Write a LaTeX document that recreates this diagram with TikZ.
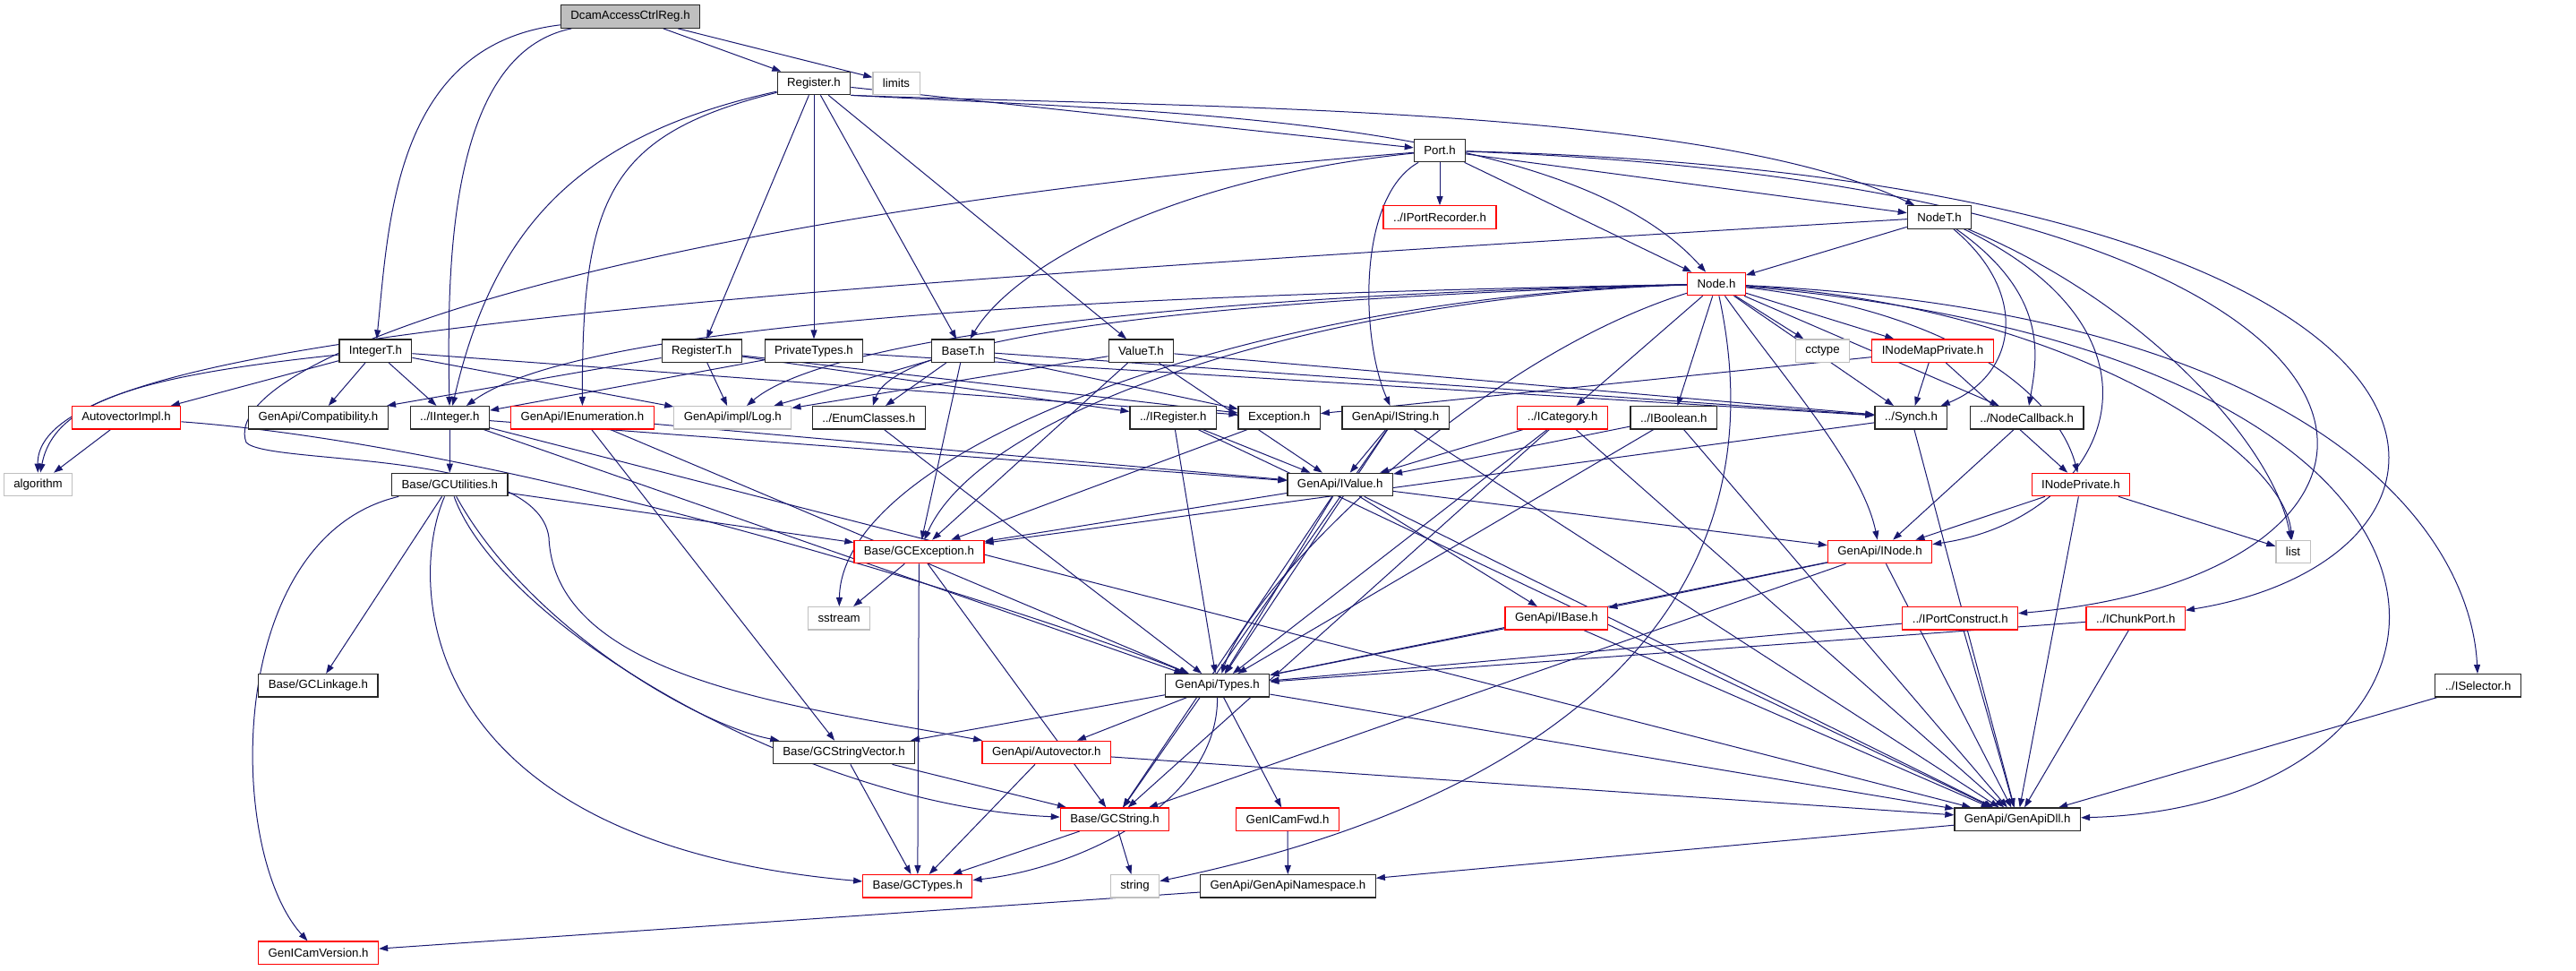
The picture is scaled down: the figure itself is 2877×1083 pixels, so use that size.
\documentclass[tikz,border=0pt]{standalone}
\usepackage{fontspec}
\setmainfont{Liberation Sans}
\usepackage{xcolor}
\definecolor{edgeblue}{RGB}{25, 25, 112}
\definecolor{sysgray}{RGB}{191, 191, 191}
\definecolor{hdrred}{RGB}{255, 0, 0}
\usetikzlibrary{arrows.meta, positioning, backgrounds}

\tikzset{
    hfile/.style={draw=black!85, fill=white, line width=1.2bp, inner xsep=11bp, inner ysep=0pt,
                  minimum height=25.5bp, font=\fontsize{13.3}{16}\selectfont},
    hred/.style={hfile, draw=hdrred},
    hsys/.style={hfile, draw=sysgray},
    hroot/.style={hfile, fill=sysgray},
    incl/.style={draw=edgeblue, line width=1bp, -{Triangle[length=10bp, width=7bp]}}
}

\begin{document}
\begin{tikzpicture}[x=1bp, y=-1bp]
        \useasboundingbox (0,0) rectangle (2877,1083);

        % --- rows of header boxes (doxygen layout, pixel coordinates)
        \node[hroot] (dcam) at (704,18.5) {DcamAccessCtrlReg.h};
        \node[hfile] (register) at (909,93) {Register.h};
        \node[hsys] (limits) at (1001,93) {limits};
        \node[hfile] (port) at (1608,168) {Port.h};
        \node[hred] (iportrec) at (1608,242.5) {../IPortRecorder.h};
        \node[hfile] (nodet) at (2166,242.5) {NodeT.h};
        \node[hred] (node) at (1917,317) {Node.h};
        \node[hfile] (integert) at (419.4,391.7) {IntegerT.h};
        \node[hfile] (registert) at (783.6,391.7) {RegisterT.h};
        \node[hfile] (privtypes) at (909,391.7) {PrivateTypes.h};
        \node[hfile] (baset) at (1075.6,391.7) {BaseT.h};
        \node[hfile] (valuet) at (1274.4,391.7) {ValueT.h};
        \node[hsys] (cctype) at (2035.5,391.7) {cctype};
        \node[hred] (inodemappriv) at (2158.5,391.7) {INodeMapPrivate.h};
        \node[hred] (autovecimpl) at (141,466.3) {AutovectorImpl.h};
        \node[hfile] (compat) at (355.4,466.3) {GenApi/Compatibility.h};
        \node[hfile] (iinteger) at (502.3,466.3) {../IInteger.h};
        \node[hred] (ienum) at (650.4,466.3) {GenApi/IEnumeration.h};
        \node[hsys] (log) at (818.3,466.3) {GenApi/impl/Log.h};
        \node[hfile] (enumcls) at (970.2,466.3) {../EnumClasses.h};
        \node[hfile] (iregister) at (1310.2,466.3) {../IRegister.h};
        \node[hfile] (exception) at (1428.7,466.3) {Exception.h};
        \node[hfile] (istring) at (1558.5,466.3) {GenApi/IString.h};
        \node[hred] (icategory) at (1745.1,466.3) {../ICategory.h};
        \node[hfile] (iboolean) at (1869.2,466.3) {../IBoolean.h};
        \node[hfile] (synch) at (2134.4,466.3) {../Synch.h};
        \node[hfile] (nodecb) at (2263.7,466.3) {../NodeCallback.h};
        \node[hsys] (algorithm) at (42.5,541) {algorithm};
        \node[hfile] (gcutil) at (502.3,541) {Base/GCUtilities.h};
        \node[hfile] (ivalue) at (1496.7,541) {GenApi/IValue.h};
        \node[hred] (inodepriv) at (2323.9,541) {INodePrivate.h};
        \node[hred] (gcexc) at (1026.4,616) {Base/GCException.h};
        \node[hred] (inode) at (2099.5,616) {GenApi/INode.h};
        \node[hsys] (list) at (2561,616) {list};
        \node[hsys] (sstream) at (937.1,690.3) {sstream};
        \node[hred] (ibase) at (1738.4,690.3) {GenApi/IBase.h};
        \node[hred] (iportcons) at (2189.2,690.3) {../IPortConstruct.h};
        \node[hred] (ichunk) at (2385.2,690.3) {../IChunkPort.h};
        \node[hfile] (gclinkage) at (355.4,765.3) {Base/GCLinkage.h};
        \node[hfile] (types) at (1359.6,765.3) {GenApi/Types.h};
        \node[hfile] (iselector) at (2767.6,765.3) {../ISelector.h};
        \node[hfile] (gcstrvec) at (942.5,840) {Base/GCStringVector.h};
        \node[hred] (autovec) at (1168.8,840) {GenApi/Autovector.h};
        \node[hred] (gcstring) at (1245,914.7) {Base/GCString.h};
        \node[hred] (genicamfwd) at (1438.1,914.7) {GenICamFwd.h};
        \node[hfile] (genapidll) at (2253.2,914.7) {GenApi/GenApiDll.h};
        \node[hred] (gctypes) at (1024.8,989.3) {Base/GCTypes.h};
        \node[hsys] (string) at (1267.5,989.3) {string};
        \node[hfile] (gansp) at (1438.4,989.3) {GenApi/GenApiNamespace.h};
        \node[hred] (genicamver) at (355.6,1063.7) {GenICamVersion.h};

        \begin{scope}[on background layer]
        % --- straight include edges
        \foreach \a/\b in {dcam/register, dcam/limits,
                register/port, register/registert, register/privtypes, register/baset, register/valuet,
                port/iportrec, port/node, port/nodet,
                nodet/node,
                node/icategory, node/iboolean, node/cctype, node/inodemappriv, node/synch, node/nodecb,
                integert/autovecimpl, integert/compat, integert/iinteger, integert/log, integert/exception,
                registert/log, registert/compat, registert/iregister, registert/exception,
                privtypes/iinteger, privtypes/synch,
                baset/log, baset/enumcls, baset/exception, baset/gcexc, baset/synch,
                valuet/log, valuet/gcexc, valuet/synch, valuet/ivalue,
                autovecimpl/algorithm,
                iinteger/gcutil, iinteger/ivalue, iinteger/types, iinteger/genapidll,
                ienum/ivalue, ienum/types, ienum/gcstrvec,
                gcutil/gclinkage, gcutil/gcexc,
                enumcls/types,
                iregister/ivalue, iregister/types, iregister/genapidll,
                exception/gcexc,
                istring/ivalue, istring/types, istring/gcstring, istring/genapidll,
                icategory/ivalue, icategory/types, icategory/gcstring, icategory/genapidll,
                iboolean/ivalue, iboolean/types, iboolean/genapidll,
                synch/gcexc, synch/genapidll,
                inodemappriv/exception, inodemappriv/synch, inodemappriv/inodepriv,
                nodecb/inode,
                inodepriv/inode, inodepriv/list, inodepriv/genapidll,
                ivalue/gcexc, ivalue/inode, ivalue/ibase, ivalue/types, ivalue/gcstring, ivalue/genapidll,
                gcexc/sstream, gcexc/gctypes, gcexc/gcstring,
                inode/ibase, inode/types, inode/gcstring, inode/genapidll,
                ibase/types, ibase/genapidll,
                iportcons/types, iportcons/genapidll,
                ichunk/types, ichunk/genapidll,
                iselector/genapidll,
                types/gcstrvec, types/autovec, types/genicamfwd, types/genapidll,
                gcstrvec/gctypes, gcstrvec/gcstring,
                autovec/gctypes, autovec/genapidll,
                gcstring/gctypes, gcstring/string,
                genicamfwd/gansp, gansp/genicamver, genapidll/gansp}
            \draw[incl] (\a) -- (\b);

        % --- curved include edges
        \draw[incl] (dcam) .. controls (440,50) and (434,250) .. (integert);
        \draw[incl] (dcam) .. controls (500,60) and (499,300) .. (iinteger);
        \draw[incl] (register) .. controls (650,150) and (552,250) .. (iinteger);
        \draw[incl] (register) .. controls (680,150) and (650,220) .. (ienum);
        \draw[incl] (register.south east) .. controls (1300,125) and (1750,130) .. (node);
        \draw[incl] (register.south east) .. controls (1300,120) and (1900,115) .. (nodet);
        \draw[incl] (port) .. controls (1300,200) and (1130,300) .. (baset);
        \draw[incl] (port) .. controls (1515,220) and (1520,380) .. (istring);
        \draw[incl] (port) .. controls (2770,210) and (2770,640) .. (iportcons);
        \draw[incl] (port) .. controls (2820,200) and (2820,620) .. (ichunk);
        \draw[incl] (port) .. controls (700,240) and (240,400) .. (275,494)
                           .. controls (300,520) and (600,500) .. (613,600)
                           .. controls (620,760) and (900,790) .. (autovec);
        \draw[incl] (nodet) .. controls (700,330) and (40,380) .. (algorithm);
        \draw[incl] (nodet) .. controls (2270,330) and (2250,420) .. (synch);
        \draw[incl] (nodet) .. controls (2290,330) and (2275,400) .. (nodecb);
        \draw[incl] (nodet) .. controls (2450,380) and (2350,580) .. (inode);
        \draw[incl] (nodet) .. controls (2400,340) and (2540,500) .. (list);
        \draw[incl] (node) .. controls (1200,330) and (650,360) .. (iinteger);
        \draw[incl] (node) .. controls (1300,330) and (920,380) .. (log);
        \draw[incl] (node) .. controls (1300,335) and (1000,380) .. (enumcls);
        \draw[incl] (node) .. controls (1500,330) and (1100,450) .. (gcexc);
        \draw[incl] (node) .. controls (1400,330) and (940,500) .. (sstream);
        \draw[incl] (node) .. controls (1650,400) and (1400,650) .. (types);
        \draw[incl] (node) .. controls (1990,420) and (2080,520) .. (inode);
        \draw[incl] (node) .. controls (2200,350) and (2300,450) .. (inodepriv);
        \draw[incl] (node) .. controls (2300,340) and (2550,500) .. (list);
        \draw[incl] (node) .. controls (2600,350) and (2760,600) .. (iselector);
        \draw[incl] (node) .. controls (2870,400) and (2800,900) .. (genapidll);
        \draw[incl] (node) .. controls (2000,700) and (1700,900) .. (string);
        \draw[incl] (integert) .. controls (150,420) and (60,450) .. (algorithm);
        \draw[incl] (autovecimpl) .. controls (600,500) and (1200,700) .. (types);
        \draw[incl] (gcutil) .. controls (250,600) and (252,950) .. (genicamver);
        \draw[incl] (gcutil) .. controls (455,650) and (460,940) .. (gctypes);
        \draw[incl] (gcutil) .. controls (560,700) and (900,900) .. (gcstring);
        \draw[incl] (gcutil) .. controls (590,700) and (780,810) .. (gcstrvec);
        \draw[incl] (types) .. controls (1360,900) and (1200,970) .. (gctypes);
        \end{scope}
\end{tikzpicture}
\end{document}
